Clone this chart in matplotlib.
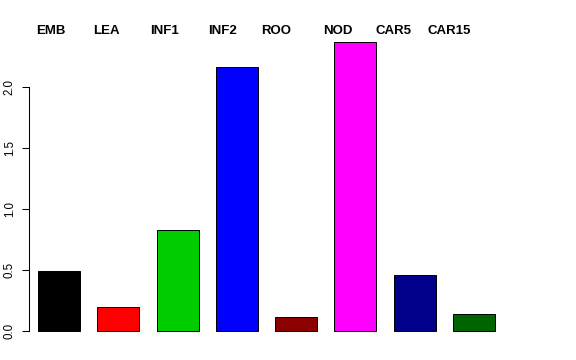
import matplotlib
matplotlib.use("Agg")
import matplotlib.pyplot as plt

# data
samples = ["EMB", "LEA", "INF1", "INF2", "ROO", "NOD", "CAR5", "CAR15"]
values = [0.492, 0.199, 0.828, 2.161, 0.115, 2.363, 0.461, 0.139]
colors = ["black", "red", "#00CD00", "blue", "#8B0000", "magenta", "#00008B", "#006400"]
yticks = [0.0, 0.5, 1.0, 1.5, 2.0]

# layout: left edge (pixels) of each header label
label_px = [36, 93, 150, 208, 261, 323, 375, 428]

plt.rcParams["font.family"] = ["Liberation Sans", "DejaVu Sans"]

W, H = 576, 360
fig = plt.figure(figsize=(W / 100, H / 100), dpi=100)
ax = fig.add_axes([29 / W, (H - 342.5) / H, (504 - 29) / W, (342.5 - 31) / H])

x = list(range(len(samples)))
ax.bar(x, values, width=0.71, color=colors, edgecolor="black", linewidth=0.7)

ax.set_xlim(-0.51, 7.51)
ax.set_ylim(-0.0945, 2.457)
for s in ["top", "right", "bottom"]:
    ax.spines[s].set_visible(False)
ax.spines["left"].set_bounds(0, 2.0)
ax.spines["left"].set_linewidth(0.75)
ax.set_xticks([])
ax.set_yticks(yticks)
ax.set_yticklabels([f"{t:.1f}" for t in yticks], rotation=90, va="center", fontsize=8.3)
ax.tick_params(axis="y", length=5, width=0.75, pad=4.5)

for name, px in zip(samples, label_px):
    fig.text(px / W, (H - 34) / H, name, fontsize=9.5, fontweight="bold", ha="left", va="baseline")

fig.savefig("out.png", dpi=100)
